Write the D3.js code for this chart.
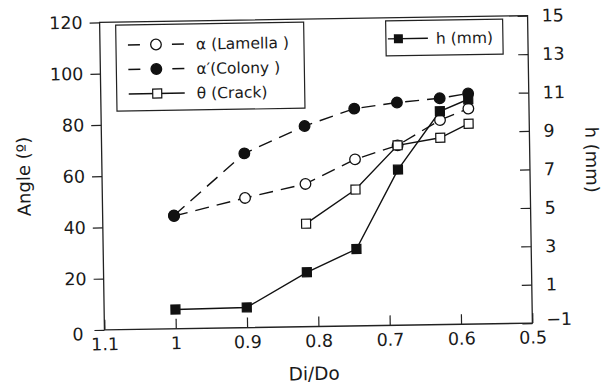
<!DOCTYPE html>
<html>
<head>
<meta charset="utf-8">
<script src="https://cdn.jsdelivr.net/npm/d3@7"></script>
<style>
  body { margin: 0; background: #fff; }
  svg text { font-family: "DejaVu Sans", "Liberation Sans", Arial, sans-serif; fill: #1a1a1a; }
</style>
</head>
<body>
<svg id="chart"></svg>
<script>
// Di/Do values along the x axis
const ratios = [1, 0.9, 0.815, 0.745, 0.685, 0.625, 0.585];
// angles in degrees (left axis)
const lamella = [44, 50.6, 55.7, 65, 70.2, 79.8, 84.1];
const colony = [44.2, 68, 78.3, 84.8, 86.9, 88.3, 90];
const crack = [null, null, 40.2, 53.2, 70.2, 72.9, 78.2];
// h in mm (right axis)
const hmm = [0, 0.05, 1.83, 3.0, 7.1, 10.1, 10.7];

const xTicks = [1.1, 1, 0.9, 0.8, 0.7, 0.6, 0.5];
const angleTicks = [0, 20, 40, 60, 80, 100, 120];
const hTicks = [-1, 1, 3, 5, 7, 9, 11, 13, 15];

const WIDTH = 609, HEIGHT = 389;
const LEFT = 102, RIGHT = 530, TOP = 19, BOTTOM = 326.5;
const FONT = "DejaVu Sans, Liberation Sans, Arial, sans-serif";

const svg = d3.select("#chart").attr("width", WIDTH).attr("height", HEIGHT);
// the scanned figure is slightly tilted
const root = svg.append("g").attr("transform", "rotate(-0.9,317,173)");

const x = d3.scaleLinear().domain([1.1, 0.5]).range([LEFT, RIGHT]);
const yA = d3.scaleLinear().domain([0, 120]).range([BOTTOM, TOP]);
const yH = d3.scaleLinear().domain([-1, 15]).range([BOTTOM, TOP]);

function styleAxis(g) {
  g.select(".domain").remove();
  g.selectAll("line").attr("stroke", "#222").attr("stroke-width", 1.2);
  g.selectAll("text").attr("font-size", 17.5).attr("fill", "#1a1a1a").style("font-family", FONT);
}

root.append("g").attr("transform", `translate(0,${BOTTOM})`)
  .call(d3.axisBottom(x).tickValues(xTicks).tickSize(-10).tickSizeOuter(0).tickPadding(8)
    .tickFormat(d3.format("")))
  .call(styleAxis);

root.append("g").attr("transform", `translate(${LEFT},0)`)
  .call(d3.axisLeft(yA).tickValues(angleTicks).tickSize(10).tickSizeOuter(0).tickPadding(7))
  .call(styleAxis);

root.append("g").attr("transform", `translate(${RIGHT},0)`)
  .call(d3.axisRight(yH).tickValues(hTicks).tickSize(-10).tickSizeOuter(0).tickPadding(14))
  .call(styleAxis);

// nudge corner labels like the original
root.selectAll("g text").filter(d => d === 0).attr("dx", -4).attr("dy", "0.55em");
root.selectAll("g text").filter(d => d === -1).attr("dy", "0.1em");

root.append("rect")
  .attr("x", LEFT).attr("y", TOP)
  .attr("width", RIGHT - LEFT).attr("height", BOTTOM - TOP)
  .attr("fill", "none").attr("stroke", "#222").attr("stroke-width", 1.3);

// axis titles
root.append("text").attr("x", 311).attr("y", 380).attr("text-anchor", "middle")
  .attr("font-size", 18.5).text("Di/Do");
root.append("text").attr("transform", "translate(30,172) rotate(-90)")
  .attr("text-anchor", "middle").attr("font-size", 18).text("Angle (º)");
root.append("text").attr("transform", "translate(586,164) rotate(90)")
  .attr("text-anchor", "middle").attr("font-size", 18).text("h (mm)");

function series(values) {
  return ratios.map((r, i) => ({ x: r, y: values[i] })).filter(d => d.y !== null);
}

function drawLine(data, yScale, dash) {
  root.append("path").datum(data)
    .attr("d", d3.line().x(d => x(d.x)).y(d => yScale(d.y)))
    .attr("fill", "none").attr("stroke", "#111").attr("stroke-width", 1.4)
    .attr("stroke-dasharray", dash);
}

function drawCircles(data, yScale, filled) {
  root.append("g").selectAll("circle").data(data).enter().append("circle")
    .attr("cx", d => x(d.x)).attr("cy", d => yScale(d.y)).attr("r", 5.3)
    .attr("fill", filled ? "#111" : "#fff").attr("stroke", "#111").attr("stroke-width", 1.3);
}

function drawSquares(data, yScale, filled) {
  root.append("g").selectAll("rect").data(data).enter().append("rect")
    .attr("x", d => x(d.x) - 4.5).attr("y", d => yScale(d.y) - 4.5)
    .attr("width", 9).attr("height", 9)
    .attr("fill", filled ? "#111" : "#fff").attr("stroke", "#111").attr("stroke-width", 1.2);
}

const lamellaData = series(lamella);
const colonyData = series(colony);
const crackData = series(crack);
const hData = series(hmm);

drawLine(lamellaData, yA, "14,8");
drawLine(colonyData, yA, "14,8");
drawLine(crackData, yA, null);
drawLine(hData, yH, null);
drawCircles(lamellaData, yA, false);
drawSquares(crackData, yA, false);
drawSquares(hData, yH, true);
drawCircles(colonyData, yA, true);

// legend (angles)
const leg = root.append("g").attr("transform", `translate(118,${TOP + 3})`);
leg.append("rect").attr("width", 188).attr("height", 86)
  .attr("fill", "#fff").attr("stroke", "#222").attr("stroke-width", 1.2);
const legItems = [
  { label: "α (Lamella )", kind: "openCircle", dashed: true },
  { label: "α′(Colony )", kind: "filledCircle", dashed: true },
  { label: "θ (Crack)", kind: "openSquare", dashed: false }
];
legItems.forEach((it, i) => {
  const cy = 20 + i * 24.5;
  const row = leg.append("g").attr("transform", `translate(0,${cy})`);
  if (it.dashed) {
    row.append("line").attr("x1", 12).attr("x2", 24).attr("stroke", "#111").attr("stroke-width", 1.4);
    row.append("line").attr("x1", 56).attr("x2", 68).attr("stroke", "#111").attr("stroke-width", 1.4);
  } else {
    row.append("line").attr("x1", 12).attr("x2", 68).attr("stroke", "#111").attr("stroke-width", 1.4);
  }
  if (it.kind === "openSquare") {
    row.append("rect").attr("x", 36).attr("y", -4.5).attr("width", 9).attr("height", 9)
      .attr("fill", "#fff").attr("stroke", "#111").attr("stroke-width", 1.2);
  } else {
    row.append("circle").attr("cx", 40).attr("r", 5.3)
      .attr("fill", it.kind === "filledCircle" ? "#111" : "#fff")
      .attr("stroke", "#111").attr("stroke-width", 1.3);
  }
  row.append("text").attr("x", 80).attr("dy", "0.36em").attr("font-size", 15.5).text(it.label);
});

// legend (h)
const leg2 = root.append("g").attr("transform", `translate(388,${TOP + 3})`);
leg2.append("rect").attr("width", 117).attr("height", 35)
  .attr("fill", "#fff").attr("stroke", "#222").attr("stroke-width", 1.2);
leg2.append("line").attr("x1", 2).attr("x2", 42).attr("y1", 18).attr("y2", 18)
  .attr("stroke", "#111").attr("stroke-width", 1.4);
leg2.append("rect").attr("x", 8).attr("y", 13.5).attr("width", 9).attr("height", 9).attr("fill", "#111");
leg2.append("text").attr("x", 50).attr("y", 18).attr("dy", "0.36em").attr("font-size", 15.5).text("h (mm)");
</script>
</body>
</html>
